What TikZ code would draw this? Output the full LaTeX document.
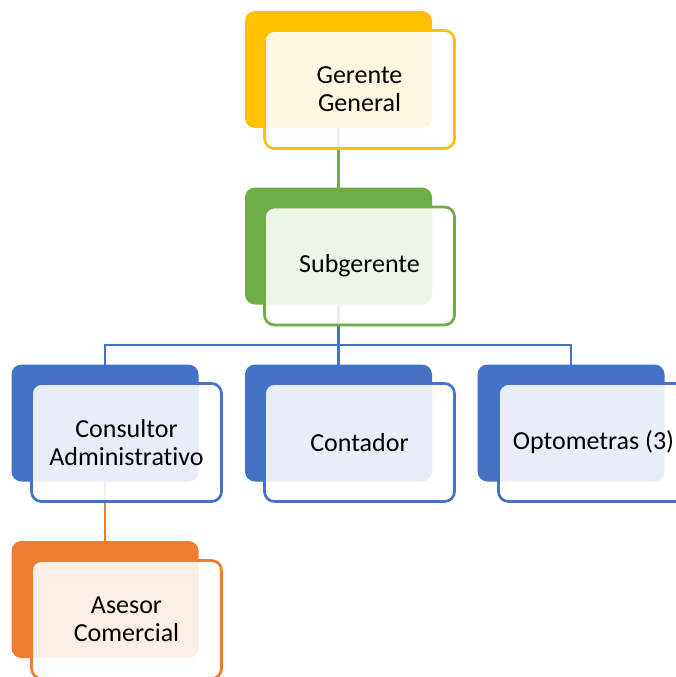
\documentclass[tikz,border=0pt]{standalone}
\usepackage{fontspec}
\setmainfont[Ligatures=NoCommon]{Carlito}
\definecolor{cgold}{HTML}{FFC000}
\definecolor{cgreen}{HTML}{70AD47}
\definecolor{cblue}{HTML}{4472C4}
\definecolor{corange}{HTML}{ED7D31}
\tikzset{
  backbox/.style={rectangle, rounded corners=10pt, fill=#1, draw=none, inner sep=0pt, outer sep=0pt, minimum width=187pt, minimum height=117pt},
  frontbox/.style={rectangle, rounded corners=10pt, draw=#1, line width=2.7pt, fill=white, fill opacity=0.88, text opacity=1, inner sep=0pt, outer sep=0pt, minimum width=190pt, minimum height=118pt, align=center, font=\fontsize{26}{28}\selectfont, text=black},
  link/.style={draw=#1, line width=2.5pt}
}
\begin{document}
\begin{tikzpicture}[x=1pt, y=-1pt]
\useasboundingbox (0,0) rectangle (676,677);
\clip (0,0) rectangle (676,677);
% back boxes
\node[backbox=cgold] (gb) at (338.5,69.5) {};
\node[backbox=cgreen] (sb) at (338.5,246) {};
\node[backbox=cblue] (cb) at (105,423) {};
\node[backbox=cblue] (kb) at (338.5,423) {};
\node[backbox=cblue] (ob) at (571,423) {};
\node[backbox=corange] (ab) at (105,599.5) {};
% connectors
\coordinate (bus) at (338.5,345);
\draw[link=cgreen] (gb.south) -- (sb.north);
\draw[link=cblue] (sb.south) -- (bus);
\draw[link=cblue] (cb.north) |- (bus) -| (ob.north);
\draw[link=cblue] (kb.north) -- (kb.north |- bus);
\draw[link=corange] (cb.south) -- (ab.north);
% front boxes
\node[frontbox=cgold] (gf) at (359.5,89.5) {Gerente\\General};
\node[frontbox=cgreen] (sf) at (359.5,266) {Subgerente};
\node[frontbox=cblue] (cf) at (126.5,442.5) {Consultor\\Administrativo};
\node[frontbox=cblue] (kf) at (359.5,442.5) {Contador};
\node[frontbox=cblue] (of) at (593.5,442.5) {Optometras (3)};
\node[frontbox=corange] (af) at (126.5,619.5) {Asesor\\Comercial};
\end{tikzpicture}
\end{document}
